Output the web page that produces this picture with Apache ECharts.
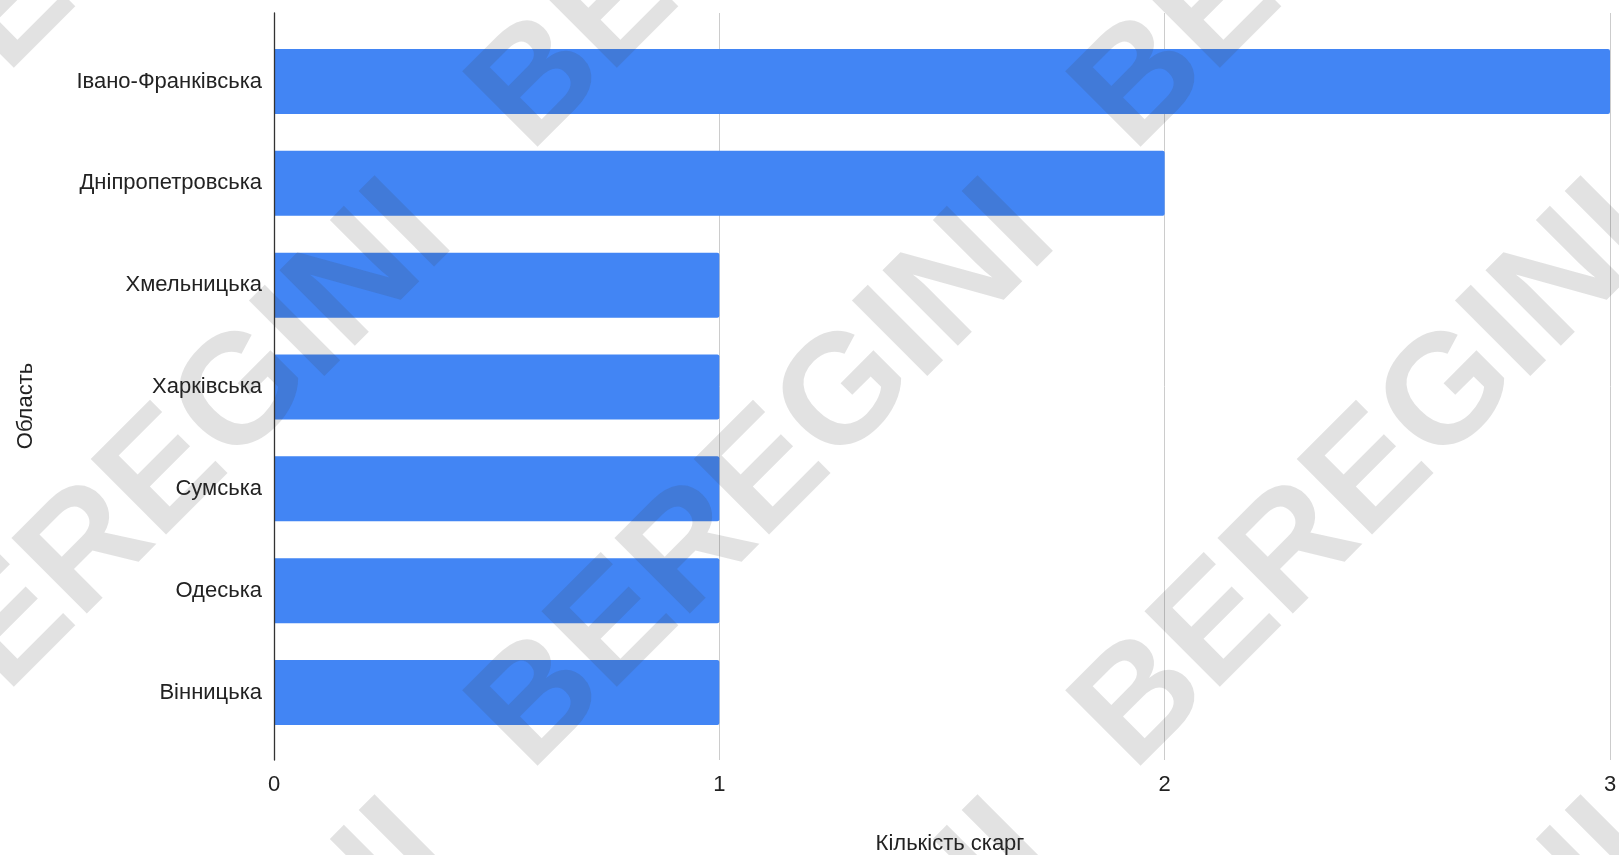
<!DOCTYPE html>
<html>
<head>
<meta charset="utf-8">
<script src="https://cdn.jsdelivr.net/npm/echarts@6/dist/echarts.min.js"></script>
<style>
html,body{margin:0;padding:0;background:#fff;}
#chart{width:1619px;height:855px;}
</style>
</head>
<body>
<div id="chart"></div>
<script>
var categories = ['Івано-Франківська','Дніпропетровська','Хмельницька','Харківська','Сумська','Одеська','Вінницька'];
var values = [3, 2, 1, 1, 1, 1, 1];
var xAxisTitle = 'Кількість скарг';
var yAxisTitle = 'Область';
var watermarkText = 'BEREGINI';

var FONT = '"Liberation Sans", Arial, sans-serif';
var chart = echarts.init(document.getElementById('chart'), null, {renderer:'canvas'});

var wm = [];
var cxs = [162, 765, 1368];
var cys = [-141, 478, 1097];
cxs.forEach(function(cx){
  cys.forEach(function(cy){
    wm.push({
      type:'text', x:cx, y:cy, rotation:Math.PI/4, z:100, silent:true,
      style:{text:watermarkText, font:'bold 155px "Liberation Sans", Arial, sans-serif',
        fill:'rgba(60,60,60,0.15)', textAlign:'center', textVerticalAlign:'middle',
        align:'center', verticalAlign:'middle'}
    });
  });
});
wm.push({
  type:'text', x:26, y:406, rotation:Math.PI/2, z:10,
  style:{text:yAxisTitle, font:'22px "Liberation Sans", Arial, sans-serif', fill:'#222',
    textAlign:'center', textVerticalAlign:'middle', align:'center', verticalAlign:'middle'}
});

var option = {
  backgroundColor:'#fff',
  animation:false,
  grid:[
    {left:274, right:9, top:13, bottom:95, containLabel:false, outerBoundsMode:'none'},
    {left:274, right:9, top:30.6, bottom:111.6, containLabel:false, outerBoundsMode:'none'}
  ],
  xAxis:[
    {type:'value', gridIndex:0, min:0, max:3, interval:1,
     axisLine:{show:false}, axisTick:{show:false},
     splitLine:{show:true, lineStyle:{color:'#cccccc', width:1}},
     axisLabel:{fontSize:22, color:'#222', fontFamily:FONT, margin:14},
     name:xAxisTitle, nameLocation:'middle', nameGap:73,
     nameTextStyle:{fontSize:22, color:'#222', fontFamily:FONT, padding:[0,0,0,16]}},
    {type:'value', gridIndex:1, min:0, max:3, interval:1, show:false,
     splitLine:{show:false}}
  ],
  yAxis:[
    {type:'value', gridIndex:0, min:0, max:1, z:5,
     axisLine:{show:true, lineStyle:{color:'#333', width:1.3}},
     axisTick:{show:false}, axisLabel:{show:false}, splitLine:{show:false}},
    {type:'category', gridIndex:1, data:categories, inverse:true,
     axisLine:{show:false}, axisTick:{show:false}, splitLine:{show:false},
     axisLabel:{fontSize:22, color:'#222', fontFamily:FONT, margin:12}}
  ],
  series:[{
    type:'bar', xAxisIndex:1, yAxisIndex:1, data:values, barWidth:65,
    itemStyle:{color:'#4285F4', borderRadius:[0,2,2,0]}
  }],
  graphic:{elements:wm}
};
chart.setOption(option);
</script>
</body>
</html>
